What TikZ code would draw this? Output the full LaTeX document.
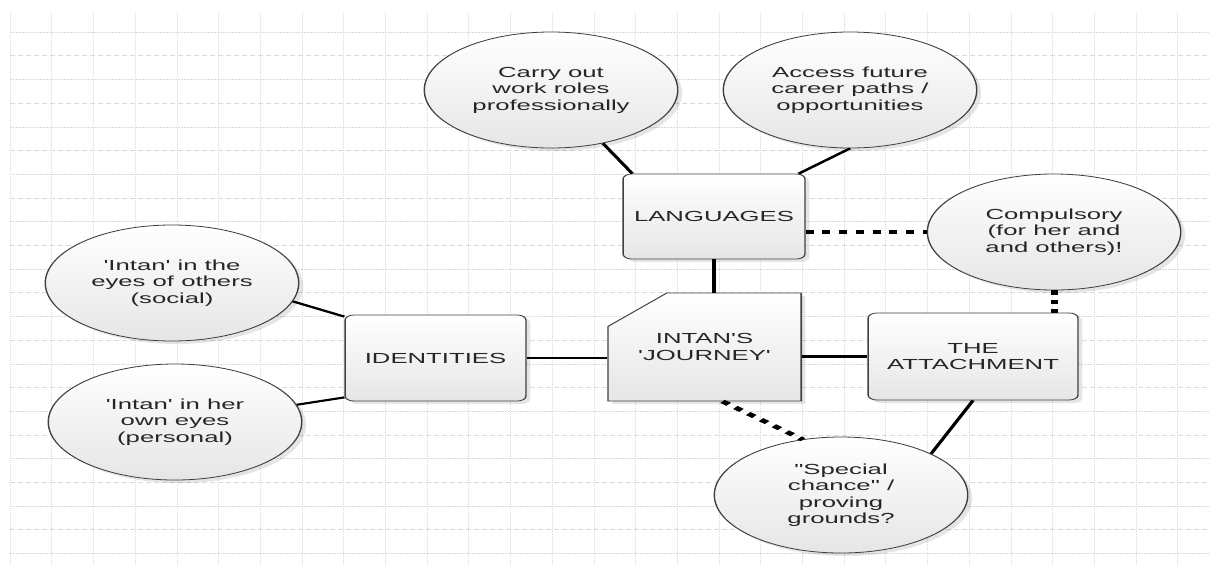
\documentclass[tikz,border=0pt]{standalone}
\usepackage{fontspec}
\newfontfamily\diagfont{Liberation Sans}
\usetikzlibrary{shapes.geometric,shapes.misc,shadows,calc}
\begin{document}
\begin{tikzpicture}[x=1pt,y=-1pt,
  gridv/.style={draw=black!15,line width=0.6pt,dash pattern=on 1pt off 1pt},
  gridh/.style={draw=black!15,line width=0.6pt,dash pattern=on 1.5pt off 1.5pt},
  gridd/.style={draw=black!15,line width=0.6pt,dash pattern=on 5pt off 3pt},
  txt/.style={font=\diagfont\fontsize{14.6}{16.5}\selectfont,text=black!85,align=center},
  shade/.style={shading=axis,top color=white,bottom color=black!10,
    drop shadow={shadow xshift=2.5pt,shadow yshift=-3pt,opacity=0.1,fill=black}},
  bubble/.style={ellipse,draw=black!75,line width=0.8pt,minimum width=144pt,
    minimum height=116pt,inner sep=0pt,txt,shade},
  boxnode/.style={rectangle,rounded corners=5pt,draw=black!75,line width=0.8pt,
    minimum height=86pt,inner sep=0pt,txt,shade},
  link/.style={draw=black,line width=2.1pt},
  dotlink/.style={draw=black,line width=4pt,dash pattern=on 4.5pt off 5pt}]
\useasboundingbox (0,0) rectangle (1209,566);
% grid
\foreach \i in {0,...,28} \draw[gridv] ({10+41.7*\i},12) -- ({10+41.7*\i},566);
\foreach \k in {0,...,11} \draw[gridh] (10,{32+47.4*\k}) -- (1209,{32+47.4*\k});
\foreach \k in {0,...,10} \draw[gridd] (10,{55.7+47.4*\k}) -- (1209,{55.7+47.4*\k});
\begin{scope}[transform canvas={xscale=1.76},x=0.5682pt,y=-1pt]
  \node[bubble] (carry) at (551,90) {Carry out\\work roles\\professionally};
  \node[bubble] (access) at (850,90) {Access future\\career paths /\\opportunities};
  \node[bubble] (comp) at (1054,232) {Compulsory\\(for her and\\and others)!};
  \node[bubble] (social) at (172,283) {'Intan' in the\\eyes of others\\(social)};
  \node[bubble] (personal) at (175,422) {'Intan' in her\\own eyes\\(personal)};
  \node[bubble] (special) at (841,495) {"Special\\chance" /\\proving\\grounds?};
  \node[boxnode,minimum width=103.4pt,minimum height=85pt] (lang) at (714,216.5) {LANGUAGES};
  \node[boxnode,minimum width=102.8pt] (ident) at (435.5,358) {IDENTITIES};
  \node[boxnode,minimum width=119.3pt,minimum height=87pt] (att) at (973,356.5) {THE\\ATTACHMENT};
  \node[chamfered rectangle,chamfered rectangle corners=north west,
    chamfered rectangle xsep=22.7pt,chamfered rectangle ysep=20pt,
    draw=black!75,line width=0.8pt,minimum width=109.7pt,minimum height=108pt,
    inner sep=0pt,txt,shade] (journey) at (704.5,347) {INTAN'S\\'JOURNEY'};
  % connectors
  \draw[link] (carry) -- ($(lang.north west)+(10,0)$);
  \draw[link] (access.south) -- ($(lang.north east)+(-7,0)$);
  \draw[link] (lang.south) -- (lang.south |- journey.north);
  \draw[dotlink] (lang.east |- comp.west) -- (comp.west);
  \draw[dotlink] (comp.south) -- (comp.south |- att.north);
  \draw[link] (journey.east |- att.west) -- (att.west);
  \draw[link] (ident.east) -- (ident.east -| journey.west);
  \draw[dotlink] ($(journey.south)+(18,0)$) -- ($(special.north)+(-38,3)$);
  \draw[link] (att.south) -- (special.north east);
  \draw[link] (social.-15) -- ($(ident.north west)+(0,2)$);
  \draw[link] (personal.14) -- ($(ident.south west)+(0,-4)$);
\end{scope}
\end{tikzpicture}
\end{document}
